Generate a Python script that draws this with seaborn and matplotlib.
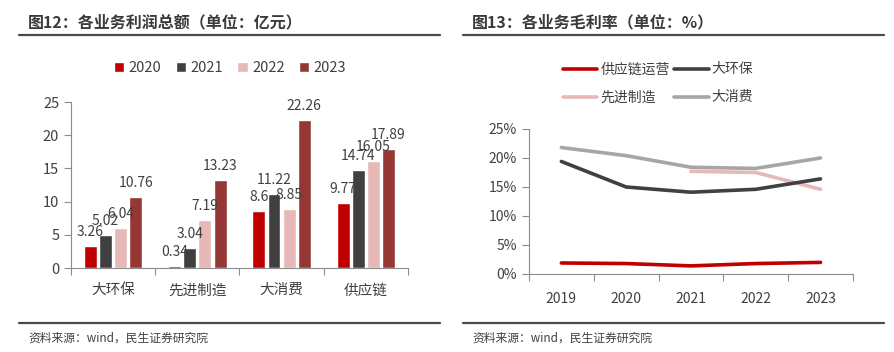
import matplotlib.pyplot as plt
import seaborn as sns
import pandas as pd
import numpy as np

# left chart: profit by segment (亿元)
segments = ['大环保', '先进制造', '大消费', '供应链']
bar_years = ['2020', '2021', '2022', '2023']
profit_2020 = [3.26, 0.34, 8.6, 9.77]
profit_2021 = [5.02, 3.04, 11.22, 14.74]
profit_2022 = [6.04, 7.19, 8.85, 16.05]
profit_2023 = [10.76, 13.23, 22.26, 17.89]
profit_labels = [['3.26', '0.34', '8.6', '9.77'],
                 ['5.02', '3.04', '11.22', '14.74'],
                 ['6.04', '7.19', '8.85', '16.05'],
                 ['10.76', '13.23', '22.26', '17.89']]
bar_colors = ['#c00000', '#404040', '#e6b9b8', '#953735']

# right chart: gross margin (%)
line_years = [2019, 2020, 2021, 2022, 2023]
margin_supply = [1.9, 1.8, 1.4, 1.8, 2.0]
margin_env = [19.4, 15.0, 14.1, 14.6, 16.4]
margin_mfg = [np.nan, np.nan, 17.7, 17.5, 14.6]
margin_cons = [21.8, 20.4, 18.4, 18.2, 20.0]
line_names = ['供应链运营', '先进制造', '大环保', '大消费']
line_colors = {'供应链运营': '#c00000', '大环保': '#404040',
               '先进制造': '#e6b9b8', '大消费': '#a6a6a6'}

sns.set_style('white')
plt.rcParams['font.family'] = ['Noto Sans CJK SC', 'DejaVu Sans']
txt = '#404040'
spine_c = '#8c8c8c'

bars = pd.DataFrame({
    'segment': segments * 4,
    'year': np.repeat(bar_years, 4),
    'value': profit_2020 + profit_2021 + profit_2022 + profit_2023,
})
lines = pd.DataFrame({
    'year': line_years * 4,
    'name': np.repeat(line_names, 5),
    'value': margin_supply + margin_mfg + margin_env + margin_cons,
})

fig = plt.figure(figsize=(8.95, 3.52), dpi=100)

# ---- left ----
ax1 = fig.add_axes([0.0793, 0.2386, 0.3765, 0.4716])
sns.barplot(data=bars, x='segment', y='value', hue='year', palette=bar_colors,
            width=0.72, gap=0.15, saturation=1, ax=ax1, order=segments, hue_order=bar_years)
for cont, labs in zip(ax1.containers, profit_labels):
    ax1.bar_label(cont, labels=labs, padding=5, fontsize=10, color=txt)
ax1.set_ylim(0, 25)
ax1.set_xlim(-0.5, 3.5)
ax1.set_yticks(range(0, 26, 5))
ax1.set_xticks(np.arange(-0.5, 4, 1))
ax1.set_xticklabels([])
ax1.set_xticks(range(4), minor=True)
ax1.set_xticklabels(segments, minor=True)
ax1.tick_params(axis='x', which='major', length=5, color=spine_c, direction='out', bottom=True)
ax1.tick_params(axis='x', which='minor', length=0, labelsize=10.5, labelcolor=txt, pad=11)
ax1.tick_params(axis='y', length=5, color=spine_c, direction='out', left=True, labelsize=10.5, labelcolor=txt)
ax1.set_xlabel('')
ax1.set_ylabel('')
for s in ['top', 'right']:
    ax1.spines[s].set_visible(False)
for s in ['left', 'bottom']:
    ax1.spines[s].set_color(spine_c)
h, l = ax1.get_legend_handles_labels()
ax1.legend(h, l, loc='center', bbox_to_anchor=(0.257, 0.807), bbox_transform=fig.transFigure,
           ncol=4, frameon=False, handlelength=0.7, handleheight=0.7, handletextpad=0.3,
           columnspacing=1.0, fontsize=10.5, labelcolor=txt)

# ---- right ----
ax2 = fig.add_axes([0.591, 0.2216, 0.362, 0.412])
sns.lineplot(data=lines, x='year', y='value', hue='name', hue_order=line_names,
             palette=line_colors, linewidth=2.6, ax=ax2)
ax2.set_ylim(0, 25)
ax2.set_xlim(2018.5, 2023.5)
ax2.set_yticks(range(0, 26, 5))
ax2.set_yticklabels([f'{v}%' for v in range(0, 26, 5)])
ax2.set_xticks(np.arange(2018.5, 2024, 1))
ax2.set_xticklabels([])
ax2.set_xticks(line_years, minor=True)
ax2.set_xticklabels([str(y) for y in line_years], minor=True)
ax2.tick_params(axis='x', which='major', length=5, color=spine_c, direction='out', bottom=True)
ax2.tick_params(axis='x', which='minor', length=0, labelsize=10, labelcolor=txt, pad=13)
ax2.tick_params(axis='y', length=5, color=spine_c, direction='out', left=True, labelsize=10, labelcolor=txt)
ax2.set_xlabel('')
ax2.set_ylabel('')
for s in ['top', 'right']:
    ax2.spines[s].set_visible(False)
for s in ['left', 'bottom']:
    ax2.spines[s].set_color(spine_c)
h, l = ax2.get_legend_handles_labels()
ax2.legend(h, l, loc='center', bbox_to_anchor=(0.735, 0.763), bbox_transform=fig.transFigure,
           ncol=2, frameon=False, handlelength=2.5, handletextpad=0.2, columnspacing=0.3,
           labelspacing=1.0, fontsize=10, labelcolor=txt)

# ---- titles, rules, sources ----
for x0, x1, tx, title in [(19, 440, 28, '图12：各业务利润总额（单位：亿元）'),
                          (463, 884, 472, '图13：各业务毛利率（单位：%）')]:
    fig.text(tx / 895, 1 - 22 / 352, title, fontsize=11.5, fontweight='bold',
             color='#3a3a3a', va='center', ha='left')
    fig.add_artist(plt.Line2D([x0 / 895, x1 / 895], [1 - 35 / 352] * 2, color='#4a4a4a', lw=1.6))
    fig.add_artist(plt.Line2D([x0 / 895, x1 / 895], [1 - 323 / 352] * 2, color='#4a4a4a', lw=1.6))
    fig.text(tx / 895, 1 - 338 / 352, '资料来源：wind，民生证券研究院', fontsize=8.5,
             color=txt, va='center', ha='left')

fig.savefig('out.png', dpi=100)
